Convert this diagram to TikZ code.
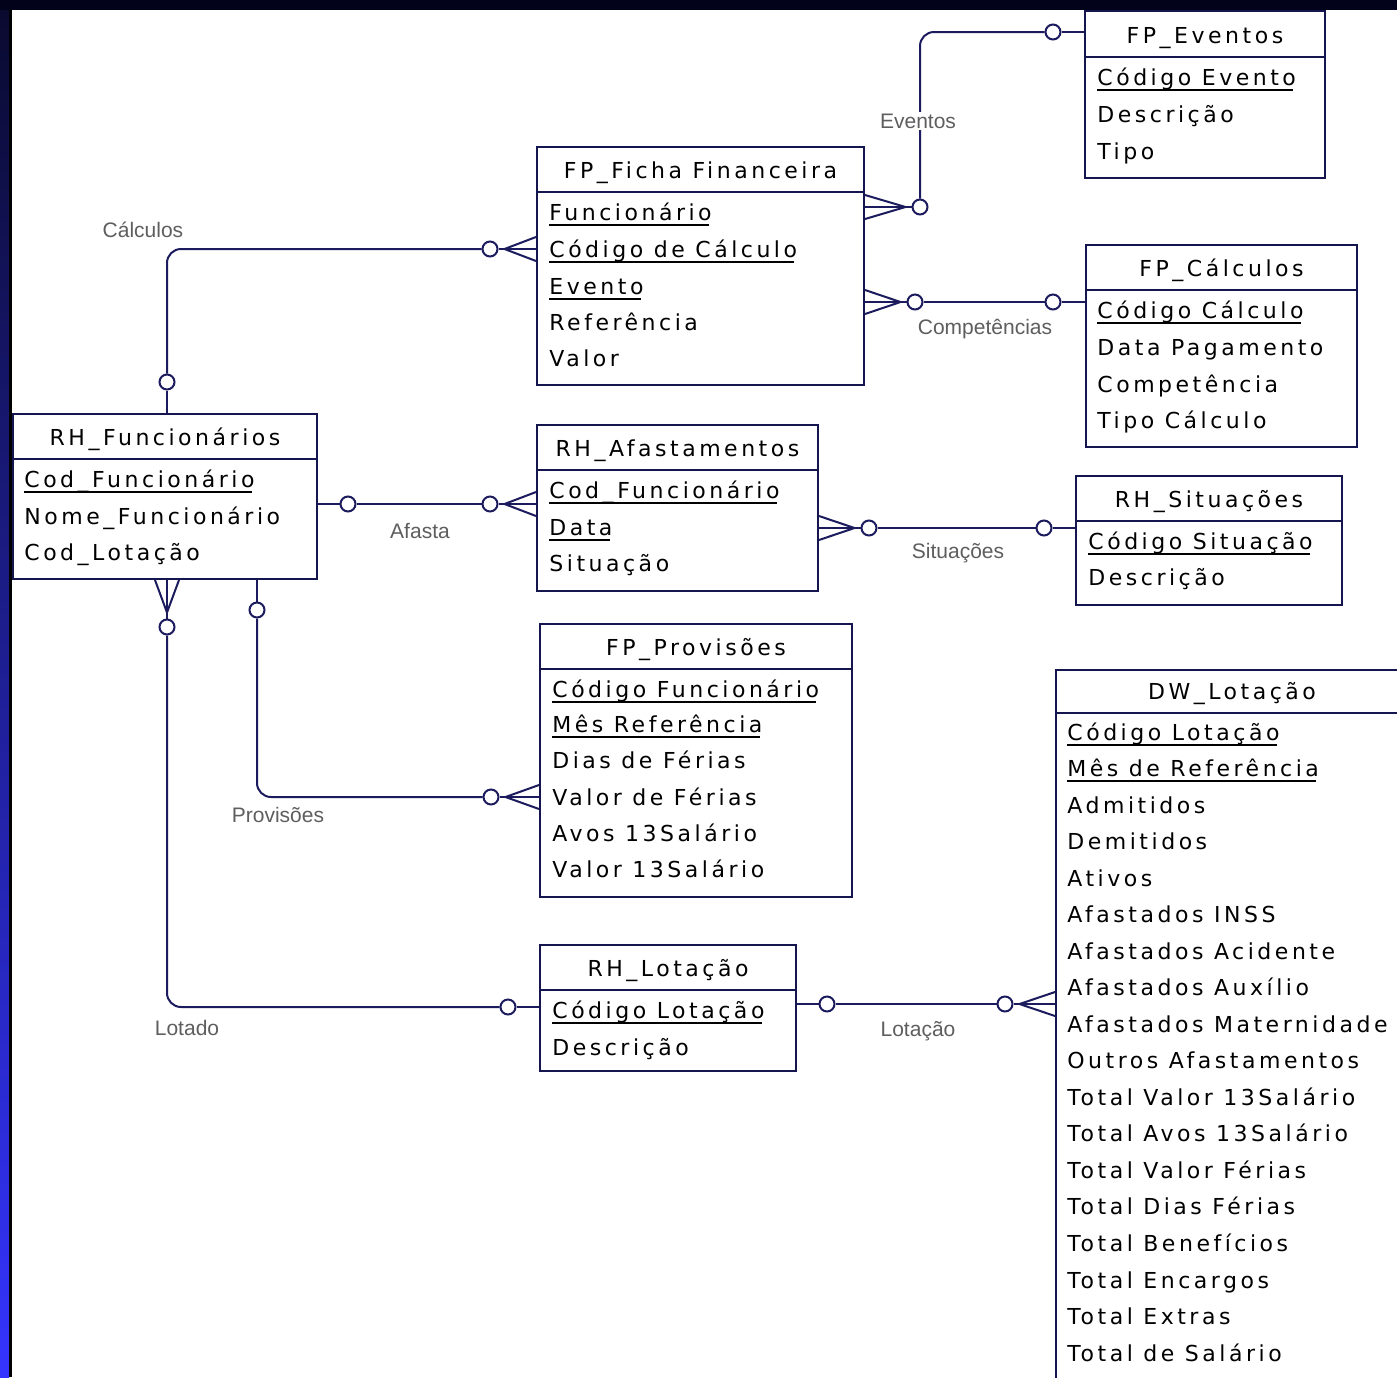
\documentclass[tikz,border=0pt]{standalone}
\usepackage{fontspec}
\setmainfont{DejaVu Sans}
\newfontfamily\attrfont[LetterSpace=16]{DejaVu Sans}
\newfontfamily\lblfont{Liberation Sans}
\usetikzlibrary{calc,fit}
\definecolor{navy}{HTML}{1B1B5E}
\definecolor{boxc}{HTML}{15154F}
\definecolor{lblgray}{HTML}{5E5E5E}
\definecolor{topband}{HTML}{02021A}
\definecolor{bandtop}{HTML}{0A0A30}
\definecolor{bandbot}{HTML}{3434FF}
\tikzset{
  eline/.style={draw=navy, line width=1pt},
  ebox/.style={draw=boxc, line width=1pt, fill=white, inner sep=0pt},
  fld/.style={anchor=base west, inner sep=0pt, font=\attrfont\fontsize{11pt}{13pt}\selectfont},
  ttl/.style={anchor=base, inner sep=0pt, font=\attrfont\fontsize{11pt}{13pt}\selectfont},
  uline/.style={draw=black, line width=0.9pt},
  lbl/.style={font=\lblfont\fontsize{10.5pt}{12pt}\selectfont, text=lblgray, fill=white, inner sep=1pt},
  ring/.style={circle, draw=navy, line width=1pt, fill=white, minimum size=7.5pt, inner sep=0pt}
}
\newcommand{\entbox}[7]{%
  \node[ebox, fit={(#2,#3)(#4,#5)}] (#1) {};
  \draw[draw=boxc, line width=1pt] (#2,#6) -- (#4,#6);
  \node[ttl] (#1-t) at ({(#2+#4)/2},{#6-14}) {#7};
}
\newcommand{\fld}[4]{\node[fld] (#1) at (#2,#3) {#4};}
\newcommand{\pkf}[4]{\node[fld] (#1) at (#2,#3) {#4};
  \draw[uline] ($(#1.base west)+(0,5)$) -- ($(#1.base east)+(-3,5)$);}
\begin{document}
\begin{tikzpicture}[x=0.5pt,y=-0.5pt]
\useasboundingbox (0,0) rectangle (1397,1377);
\clip (0,0) rectangle (1397,1377);
% background
\fill[white] (0,0) rectangle (1397,1377);
\fill[topband] (0,0) rectangle (1397,10);
\shade[top color=bandtop, bottom color=bandbot] (0,10) rectangle (9,1377);
\fill[black] (9,10) rectangle (12,1377);

% ---------- entities ----------
\entbox{fe}{1085}{11}{1325}{178}{57}{FP\_Eventos}
\pkf{fe1}{1097}{85}{Código Evento}
\fld{fe2}{1097}{122}{Descrição}
\fld{fe3}{1097}{159}{Tipo}

\entbox{ff}{537}{147}{864}{385}{192}{FP\_Ficha Financeira}
\pkf{ff1}{549}{220}{Funcionário}
\pkf{ff2}{549}{257}{Código de Cálculo}
\pkf{ff3}{549}{294}{Evento}
\fld{ff4}{549}{330}{Referência}
\fld{ff5}{549}{366}{Valor}

\entbox{fc}{1086}{245}{1357}{447}{290}{FP\_Cálculos}
\pkf{fc1}{1097}{318}{Código Cálculo}
\fld{fc2}{1097}{355}{Data Pagamento}
\fld{fc3}{1097}{392}{Competência}
\fld{fc4}{1097}{428}{Tipo Cálculo}

\entbox{rf}{13}{414}{317}{579}{459}{RH\_Funcionários}
\pkf{rf1}{24}{487}{Cod\_Funcionário}
\fld{rf2}{24}{524}{Nome\_Funcionário}
\fld{rf3}{24}{560}{Cod\_Lotação}

\entbox{ra}{537}{425}{818}{591}{470}{RH\_Afastamentos}
\pkf{ra1}{549}{498}{Cod\_Funcionário}
\pkf{ra2}{549}{535}{Data}
\fld{ra3}{549}{571}{Situação}

\entbox{rs}{1076}{476}{1342}{605}{521}{RH\_Situações}
\pkf{rs1}{1088}{549}{Código Situação}
\fld{rs2}{1088}{585}{Descrição}

\entbox{fp}{540}{624}{852}{897}{669}{FP\_Provisões}
\pkf{fp1}{552}{697}{Código Funcionário}
\pkf{fp2}{552}{732}{Mês Referência}
\fld{fp3}{552}{768}{Dias de Férias}
\fld{fp4}{552}{805}{Valor de Férias}
\fld{fp5}{552}{841}{Avos 13Salário}
\fld{fp6}{552}{877}{Valor 13Salário}

\entbox{rl}{540}{945}{796}{1071}{990}{RH\_Lotação}
\pkf{rl1}{552}{1018}{Código Lotação}
\fld{rl2}{552}{1055}{Descrição}

\entbox{dw}{1056}{670}{1408}{1420}{713}{DW\_Lotação}
\pkf{dw1}{1067}{740}{Código Lotação}
\pkf{dw2}{1067}{776}{Mês de Referência}
\fld{dw3}{1067}{813}{Admitidos}
\fld{dw4}{1067}{849}{Demitidos}
\fld{dw5}{1067}{886}{Ativos}
\fld{dw6}{1067}{922}{Afastados INSS}
\fld{dw7}{1067}{959}{Afastados Acidente}
\fld{dw8}{1067}{995}{Afastados Auxílio}
\fld{dw9}{1067}{1032}{Afastados Maternidade}
\fld{dw10}{1067}{1068}{Outros Afastamentos}
\fld{dw11}{1067}{1105}{Total Valor 13Salário}
\fld{dw12}{1067}{1141}{Total Avos 13Salário}
\fld{dw13}{1067}{1178}{Total Valor Férias}
\fld{dw14}{1067}{1214}{Total Dias Férias}
\fld{dw15}{1067}{1251}{Total Benefícios}
\fld{dw16}{1067}{1288}{Total Encargos}
\fld{dw17}{1067}{1324}{Total Extras}
\fld{dw18}{1067}{1361}{Total de Salário}

% ---------- rings ----------
\node[ring] (r1) at (920,207) {};
\node[ring] (r2) at (1053,32) {};
\node[ring] (r3) at (915,302) {};
\node[ring] (r4) at (1053,302) {};
\node[ring] (r5) at (490,249) {};
\node[ring] (r6) at (167,382) {};
\node[ring] (r7) at (348,504) {};
\node[ring] (r8) at (490,504) {};
\node[ring] (r9) at (869,528) {};
\node[ring] (r10) at (1044,528) {};
\node[ring] (r11) at (257,610) {};
\node[ring] (r12) at (491,797) {};
\node[ring] (r13) at (167,627) {};
\node[ring] (r14) at (508,1007) {};
\node[ring] (r15) at (827,1004) {};
\node[ring] (r16) at (1005,1004) {};

% ---------- connectors ----------
% Eventos
\coordinate (e1) at (ff.east |- r1);
\draw[eline] (e1) -- (r1.west);
\draw[eline] ($(e1)+(0,-12)$) -- ($(r1.west)+(-6,0)$) -- ($(e1)+(0,12)$);
\draw[eline, rounded corners=7pt] (r1.north) -- (r1 |- r2) -- (r2.west);
\draw[eline] (r2.east) -- (fe.west |- r2);
% Competencias
\coordinate (e2) at (ff.east |- r3);
\draw[eline] (e2) -- (r3.west);
\draw[eline] ($(e2)+(0,-12)$) -- ($(r3.west)+(-6,0)$) -- ($(e2)+(0,12)$);
\draw[eline] (r3.east) -- (r4.west);
\draw[eline] (r4.east) -- (fc.west |- r4);
% Calculos
\coordinate (e3) at (ff.west |- r5);
\draw[eline] (e3) -- (r5.east);
\draw[eline] ($(e3)+(0,-12)$) -- ($(r5.east)+(6,0)$) -- ($(e3)+(0,12)$);
\draw[eline, rounded corners=7pt] (r5.west) -- (r6 |- r5) -- (r6.north);
\draw[eline] (r6.south) -- (rf.north -| r6);
% Afasta
\draw[eline] (rf.east |- r7) -- (r7.west);
\draw[eline] (r7.east) -- (r8.west);
\coordinate (e4) at (ra.west |- r8);
\draw[eline] (e4) -- (r8.east);
\draw[eline] ($(e4)+(0,-12)$) -- ($(r8.east)+(6,0)$) -- ($(e4)+(0,12)$);
% Situacoes
\coordinate (e5) at (ra.east |- r9);
\draw[eline] (e5) -- (r9.west);
\draw[eline] ($(e5)+(0,-12)$) -- ($(r9.west)+(-6,0)$) -- ($(e5)+(0,12)$);
\draw[eline] (r9.east) -- (r10.west);
\draw[eline] (r10.east) -- (rs.west |- r10);
% Provisoes
\draw[eline] (rf.south -| r11) -- (r11.north);
\draw[eline, rounded corners=7pt] (r11.south) -- (r11 |- r12) -- (r12.west);
\coordinate (e6) at (fp.west |- r12);
\draw[eline] (e6) -- (r12.east);
\draw[eline] ($(e6)+(0,-12)$) -- ($(r12.east)+(6,0)$) -- ($(e6)+(0,12)$);
% Lotado
\coordinate (e7) at (rf.south -| r13);
\draw[eline] (e7) -- (r13.north);
\draw[eline] ($(e7)+(-12,0)$) -- ($(r13.north)+(0,-6)$) -- ($(e7)+(12,0)$);
\draw[eline, rounded corners=7pt] (r13.south) -- (r13 |- r14) -- (r14.west);
\draw[eline] (r14.east) -- (rl.west |- r14);
% Lotacao
\draw[eline] (rl.east |- r15) -- (r15.west);
\draw[eline] (r15.east) -- (r16.west);
\coordinate (e8) at (dw.west |- r16);
\draw[eline] (e8) -- (r16.east);
\draw[eline] ($(e8)+(0,-12)$) -- ($(r16.east)+(6,0)$) -- ($(e8)+(0,12)$);

% ---------- labels ----------
\node[lbl] (l1) at (918,121) {Eventos};
\node[lbl] (l2) at (985,329) {Competências};
\node[lbl] (l3) at (143,230) {Cálculos};
\node[lbl] (l4) at (420,531) {Afasta};
\node[lbl] (l5) at (958,553) {Situações};
\node[lbl] (l6) at (278,815) {Provisões};
\node[lbl] (l7) at (187,1028) {Lotado};
\node[lbl] (l8) at (918,1031) {Lotação};
\end{tikzpicture}
\end{document}
